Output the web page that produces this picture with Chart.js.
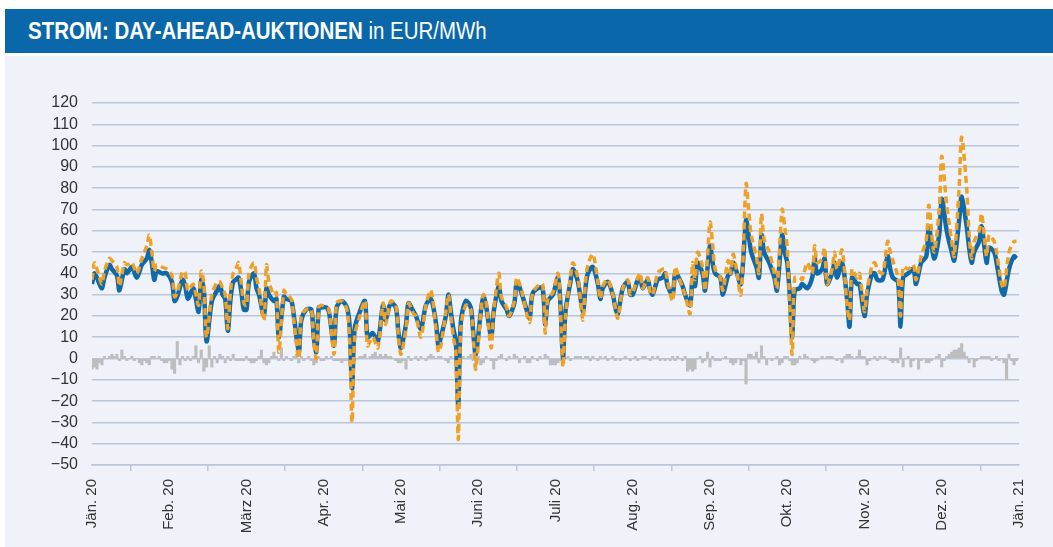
<!DOCTYPE html>
<html>
<head>
<meta charset="utf-8">
<script src="https://cdn.jsdelivr.net/npm/chart.js@4.4.1/dist/chart.umd.min.js"></script>
<style>
  body { margin: 0; background: #fff; width: 1053px; height: 547px; overflow: hidden; position: relative; }
  .header {
    position: absolute; left: 5px; top: 9px; width: 1048px; height: 44px;
    background: #0a68aa; color: #fff; box-sizing: border-box; padding-left: 23px;
    font-family: "Liberation Sans", Arial, sans-serif;
    font-size: 23px; line-height: 44px; white-space: nowrap;
  }
  .header span { display: inline-block; transform: scaleX(0.89); transform-origin: left center; }
  .header b { font-weight: bold; }
  .panel { position: absolute; left: 5px; top: 56px; width: 1048px; height: 491px; background: #eff3f9; }
</style>
</head>
<body>
<div class="header"><span><b>STROM: DAY-AHEAD-AUKTIONEN</b> in EUR/MWh</span></div>
<div class="panel"><canvas id="chart" width="1048" height="491"></canvas></div>
<script>
// x axis: one unit per month, ticks at month starts
const monthLabels = ['Jän. 20', 'Feb. 20', 'März 20', 'Apr. 20', 'Mai 20', 'Juni 20', 'Juli 20',
  'Aug. 20', 'Sep. 20', 'Okt. 20', 'Nov. 20', 'Dez. 20', 'Jän. 21'];
const monthDays = [31, 29, 31, 30, 31, 30, 31, 31, 30, 31, 30, 31];

// day of year (0 = 1 Jan 2020) for the line readings
const days = [0, 1, 3, 4, 5, 7, 8, 10, 11, 13, 14, 16, 18, 20, 22, 23, 24, 25, 26, 28, 30,
  32, 33, 34, 36, 37, 38, 40, 41, 42, 43, 44, 45, 47, 49, 50, 51, 52, 53, 54, 55, 56, 57, 58, 59,
  60, 61, 63, 64, 65, 67, 68, 69, 71, 72, 73, 75, 76, 78, 79, 81, 82, 84, 86, 87, 88, 89, 90,
  92, 93, 95, 96, 98, 100, 101, 102, 103, 105, 107, 108, 110, 112, 114, 115, 117, 119, 120,
  121, 123, 124, 126, 127, 129, 131, 133, 135, 136, 137, 139, 140, 141, 142, 143, 144, 145, 147, 149, 150, 151,
  153, 154, 155, 157, 158, 160, 161, 163, 164, 166, 167, 169, 171, 172, 173, 175, 177, 178, 179, 181,
  183, 184, 185, 186, 188, 189, 191, 193, 194, 195, 197, 199, 200, 201, 203, 205, 206, 207, 209, 211, 212,
  213, 215, 216, 217, 219, 220, 221, 223, 225, 226, 227, 229, 230, 231, 233, 234, 236, 237, 238, 239, 241, 242,
  244, 245, 246, 248, 249, 251, 252, 253, 254, 256, 258, 259, 260, 262, 263, 264, 265, 267, 269, 270, 272, 273,
  274, 275, 276, 277, 279, 280, 282, 284, 285, 286, 288, 289, 290, 292, 293, 294, 296, 298, 299, 300, 302, 303,
  305, 306, 308, 309, 310, 312, 314, 315, 316, 318, 319, 320, 322, 324, 325, 327, 329, 330, 332, 334,
  335, 337, 339, 340, 342, 343, 345, 346, 347, 348, 350, 351, 353, 354, 356, 357, 359, 360, 362, 364, 365];

// blue solid line
const base = [35, 40, 35, 33, 38, 44, 42, 39, 32, 42, 40, 43, 38, 44, 47, 51, 45, 37, 41, 40, 40,
  36, 27, 29, 37, 34, 28, 33, 28, 22, 37, 32, 8, 27, 32, 34, 30, 28, 13, 28, 36, 37, 38, 32, 23,
  23, 36, 40, 33, 30, 20, 33, 30, 27, 28, 10, 29, 28, 27, 20, 3, 18, 23, 23, 10, 3, 24, 24,
  24, 22, 6, 24, 27, 24, 16, -14, 14, 22, 27, 10, 12, 8, 25, 18, 26, 24, 12,
  5, 16, 26, 22, 20, 14, 25, 28, 17, 6, 10, 20, 30, 22, 14, 8, -22, 17, 27, 24, 12, 2,
  22, 29, 25, 10, 22, 34, 27, 23, 20, 26, 36, 30, 22, 19, 30, 33, 33, 16, 27, 30,
  38, 25, 0, 22, 36, 42, 36, 22, 33, 40, 43, 35, 28, 33, 36, 30, 24, 21, 33, 36, 30,
  30, 37, 38, 33, 37, 32, 30, 37, 38, 40, 34, 30, 40, 39, 34, 30, 25, 38, 34, 45, 40, 32,
  53, 45, 40, 38, 30, 39, 40, 45, 42, 35, 65, 58, 50, 43, 38, 58, 50, 45, 38, 32, 58, 50,
  45, 30, 10, 32, 33, 35, 33, 38, 47, 40, 42, 47, 35, 40, 45, 38, 45, 28, 15, 38, 35, 35,
  20, 30, 40, 40, 37, 37, 48, 42, 38, 36, 15, 38, 40, 42, 35, 45, 48, 62, 47, 58,
  75, 60, 50, 46, 65, 76, 62, 52, 45, 50, 55, 62, 45, 52, 50, 45, 32, 30, 42, 48, 47];

// orange dashed line
const peak = [37, 45, 38, 35, 41, 47, 46, 43, 34, 45, 44, 45, 40, 47, 53, 58, 50, 41, 44, 43, 42,
  39, 29, 31, 41, 40, 32, 35, 30, 25, 41, 35, 10, 30, 36, 36, 33, 30, 14, 32, 40, 42, 45, 36, 26,
  25, 40, 45, 38, 33, 18, 44, 36, 30, 31, 3, 32, 30, 28, 18, 0, 20, 23, 23, 8, 0, 24, 25,
  24, 23, 2, 26, 27, 23, 10, -30, 10, 20, 27, 6, 10, 5, 26, 16, 27, 25, 10,
  2, 14, 26, 21, 20, 10, 25, 32, 14, 3, 6, 22, 30, 20, 10, 3, -38, 14, 25, 23, 10, -5,
  22, 30, 27, 5, 22, 40, 29, 24, 20, 27, 38, 31, 20, 17, 30, 34, 35, 12, 28, 31,
  40, 22, -4, 20, 38, 45, 38, 18, 36, 44, 49, 36, 28, 34, 37, 30, 24, 19, 33, 37, 30,
  31, 38, 40, 33, 38, 31, 30, 40, 42, 42, 36, 27, 43, 40, 33, 30, 21, 45, 37, 50, 43, 32,
  64, 54, 42, 38, 32, 46, 40, 49, 44, 30, 82, 70, 58, 48, 40, 68, 56, 50, 40, 33, 70, 62,
  52, 25, 2, 38, 38, 37, 45, 40, 53, 45, 47, 52, 35, 42, 50, 42, 51, 25, 18, 42, 38, 40,
  22, 32, 44, 45, 42, 40, 55, 50, 46, 38, 20, 43, 42, 44, 37, 48, 56, 72, 50, 70,
  95, 72, 55, 48, 81, 104, 80, 58, 47, 55, 60, 68, 48, 58, 55, 50, 35, 33, 50, 55, 55];

// grey bars, one per day
const diff = [
  -5, -4, -5, -2, -3, 1, 0, 1, 2, 1, 2, -1, 4, 1, -1, 0, 1, -1, 0, -2, -3, -1, -2, -3, 1, 1, 0, 1, -1, -2, -2,
  -1, -5, -7, 8, -3, 1, -1, 1, -1, 1, 6, -2, 4, -6, -4, 6, -4, 1, -2, 2, 1, -2, 1, -1, 2, -1, -1, -1, -1,
  1, -1, -2, -2, -1, 1, 4, -2, -3, -2, 1, 3, 1, -1, 5, -1, 1, 0, -1, 1, 2, -2, 1, -1, 0, 1, -1, -3, -2, 1, -1,
  -1, 1, 0, 1, -1, -1, -1, -2, -1, -1, 0, 1, -1, 0, 1, 1, 2, 0, 1, 2, 3, 1, 2, 1, 2, 1, 1, 0, -1, -2,
  -2, -1, -5, 1, -1, 0, 1, -1, 1, 0, -1, 1, 2, 1, 0, 1, 1, 0, -1, -2, 1, 0, -2, -1, -2, 1, 0, 1, 2, -1, -5,
  1, -3, -2, 1, 0, -1, -5, -1, 1, 2, 0, -1, 1, 0, 2, 1, -2, 0, 1, -2, -2, 1, 0, -1, 1, 0, 2, 1, -3, -3,
  -3, -2, -1, -1, 0, 1, -1, 0, 1, 1, 1, 0, 1, 1, -1, 1, 0, -1, 1, 0, 1, -1, 0, 1, -1, 0, -1, 0, 1, 0, -1,
  0, 1, -1, 0, 1, 1, 0, -1, 1, 0, 1, -1, 0, -1, 0, -1, 1, -1, 1, 0, -1, 1, -6, -5, -6, -5, 0, 1, -2, -1, 3,
  -4, 1, -1, -1, -1, 0, 1, 0, -2, -3, -2, 0, -3, -1, -12, 2, 2, 1, 3, -2, 6, 1, -3, 0, -1, 0, 1, -3, -2, 1,
  1, -1, -3, -3, -2, 1, 0, 2, 1, 0, -1, -2, -1, 0, 1, 0, 1, 1, 1, 0, -1, 0, -2, 1, 2, 2, 1, 0, 1, 4, 1,
  1, -3, -1, 0, 1, -1, 1, 0, 1, 0, -1, -2, -1, -2, 5, -4, 0, 1, -4, -1, 0, -5, -1, 0, -2, -2, -1, 0, 1, 2,
  -4, -1, 1, 2, 3, 4, 4, 5, 7, 3, 1, -2, 0, -4, -1, 0, 1, 1, 1, 1, -1, 0, 1, -1, 0, -2, -10, 2, -1, -3, -1
];

function dayToX(d) {
  let m = 0;
  while (m < 11 && d >= monthDays[m]) { d -= monthDays[m]; m++; }
  return m + d / monthDays[m];
}

const gridColor = '#bcc6da';
const tickFont = { family: '"Liberation Sans", Arial, sans-serif', size: 15 };

new Chart(document.getElementById('chart'), {
  type: 'line',
  data: {
    datasets: [
      {
        label: 'peak',
        data: days.map((d, i) => ({ x: dayToX(d), y: peak[i] })),
        borderColor: '#eea126',
        borderWidth: 3.5,
        borderDash: [7, 4],
        pointRadius: 0,
        tension: 0.3,
        order: 0
      },
      {
        label: 'base',
        data: days.map((d, i) => ({ x: dayToX(d), y: base[i] })),
        borderColor: '#0f69ab',
        borderWidth: 4.5,
        pointRadius: 0,
        tension: 0.3,
        order: 1
      },
      {
        type: 'bar',
        label: 'diff',
        data: diff.map((v, i) => ({ x: dayToX(i), y: v })),
        backgroundColor: '#bdbdbd',
        barPercentage: 1,
        categoryPercentage: 1,
        order: 2
      }
    ]
  },
  options: {
    responsive: false,
    animation: false,
    layout: { padding: { top: 47, right: 34, left: 0, bottom: 0 } },
    plugins: { legend: { display: false }, tooltip: { enabled: false } },
    scales: {
      x: {
        type: 'linear',
        min: 0,
        max: 12,
        offset: false,
        afterFit: (s) => { s.height = 82; },
        ticks: {
          stepSize: 1,
          autoSkip: false,
          minRotation: 90,
          maxRotation: 90,
          padding: 8,
          color: '#333',
          font: tickFont,
          callback: (v) => monthLabels[v]
        },
        grid: { drawOnChartArea: false, drawTicks: true, tickLength: 6, color: gridColor, lineWidth: 1.5 },
        border: { display: true, color: gridColor, width: 1.5 }
      },
      y: {
        min: -50,
        max: 120,
        afterFit: (s) => { s.width = 87; },
        ticks: {
          stepSize: 10,
          autoSkip: false,
          padding: 14,
          color: '#333',
          font: { family: '"Liberation Sans", Arial, sans-serif', size: 16 },
          callback: (v) => String(v).replace('-', '\u2212')
        },
        grid: { color: gridColor, lineWidth: 1.5, drawTicks: false },
        border: { display: false }
      }
    }
  }
});
</script>
</body>
</html>
